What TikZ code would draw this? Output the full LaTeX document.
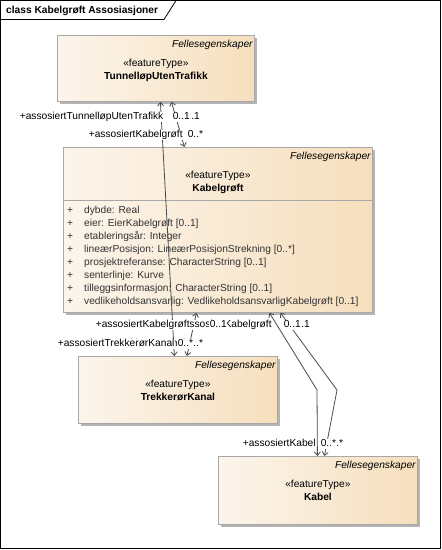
\documentclass[tikz,border=0pt]{standalone}
\usepackage{fontspec}
\setmainfont{Liberation Sans}
\usepackage{tikz}
\usetikzlibrary{arrows.meta,calc,positioning,shadows}
\definecolor{boxleft}{HTML}{FCF5EC}
\definecolor{boxright}{HTML}{F6DFBD}
\definecolor{boxedge}{HTML}{A8A8A8}
\definecolor{boxshade}{HTML}{B4B4B4}
\definecolor{assoc}{HTML}{4A4A4A}
\newcommand{\umlsize}{\fontsize{10.2bp}{12bp}\selectfont}

\begin{document}
\begin{tikzpicture}[x=1bp,y=-1bp,
  umlclass/.style={draw=boxedge,line width=0.8bp,left color=boxleft,right color=boxright,
    anchor=north west,inner sep=0pt,
    drop shadow={shadow xshift=3bp,shadow yshift=-3bp,fill=boxshade,opacity=1}},
  txt/.style={font=\umlsize,inner sep=0pt,text height=7.5bp,text depth=2bp},
  pkgname/.style={txt,font=\umlsize\itshape,anchor=east},
  stereo/.style={txt},
  clsname/.style={txt,font=\umlsize\bfseries},
  attr/.style={txt,anchor=west,text=black!80},
  role/.style={txt,anchor=west,fill=white,inner xsep=0.6bp},
  assocline/.style={draw=assoc,line width=0.8bp},
  nav/.style={assocline,{Straight Barb[length=3.5bp,width=6bp]}-{Straight Barb[length=3.5bp,width=6bp]}}]
  \useasboundingbox (0,0) rectangle (442,550);

  % frame and title tab
  \draw[line width=1bp] (0.5,0.5) rectangle (440.5,548.5);
  \draw[line width=0.8bp] (0.5,19.5) -- (164,19.5) -- (176,0.5);
  \node[clsname,anchor=west] (title) at (6,10.5) {class Kabelgrøft Assosiasjoner};

  % classes
  \node[umlclass,minimum width=197bp,minimum height=66bp] (tunnel) at (57,35) {};
  \node[umlclass,minimum width=309bp,minimum height=165bp] (kabelgroft) at (63,147) {};
  \node[umlclass,minimum width=199bp,minimum height=67bp] (trekkeror) at (78,356) {};
  \node[umlclass,minimum width=199bp,minimum height=68bp] (kabel) at (218,456) {};

  \foreach \cls/\name in {tunnel/TunnelløpUtenTrafikk,kabelgroft/Kabelgrøft,trekkeror/TrekkerørKanal,kabel/Kabel}{
    \node[pkgname] (\cls-pkg) at ($(\cls.north east)+(-2,10)$) {Fellesegenskaper};
    \node[stereo] (\cls-st) at ($(\cls.north)+(0,28.5)$) {«featureType»};
    \node[clsname] (\cls-nm) at ($(\cls.north)+(0,42)$) {\name};
  }

  % attributes of Kabelgrøft
  \draw[draw=boxedge,line width=0.8bp] ($(kabelgroft.north west)+(0,53.7)$) -- ($(kabelgroft.north east)+(0,53.7)$);
  \foreach \a [count=\i] in {{dybde: Real},{eier: EierKabelgrøft [0..1]},{etableringsår: Integer},
      {lineærPosisjon: LineærPosisjonStrekning [0..*]},{prosjektreferanse: CharacterString [0..1]},
      {senterlinje: Kurve},{tilleggsinformasjon: CharacterString [0..1]},
      {vedlikeholdsansvarlig: VedlikeholdsansvarligKabelgrøft [0..1]}}{
    \node[attr] (attr-plus-\i) at ($(kabelgroft.north west)+(4,63.5+13.1*\i-13.1)$) {+};
    \node[attr] (attr-\i) at ($(kabelgroft.north west)+(21,63.5+13.1*\i-13.1)$) {\a};
  }

  % associations
  \coordinate (bend-c) at (317,390);
  \coordinate (bend-d) at (337,390);
  \draw[nav] ($(tunnel.south)+(4.5,0)$) -- ($(trekkeror.north)+(-3.5,0)$);
  \draw[nav] ($(tunnel.south)+(15.5,0)$) -- ($(kabelgroft.north)+(-33.5,0)$);
  \draw[nav] ($(kabelgroft.south)+(-21.5,0)$) -- ($(trekkeror.north)+(9,0)$);
  \draw[nav] ($(kabelgroft.south)+(51.5,0)$) -- (bend-c) -- ($(kabel.north)+(-0.5,0)$);
  \draw[nav] ($(kabelgroft.south)+(62.5,0)$) -- (bend-d) -- ($(kabel.north)+(6.5,0)$);

  % role names and multiplicities
  \node[role] (tu-role) at (19,117) {+assosiertTunnelløpUtenTrafikk};
  \node[role] (tu-mult-b) at (182,117) {0..1};
  \node[role] (tu-mult-a) at (172,117) {0..1};

  \node[role] (kg-role-b) at (88,135) {+assosiertKabelgrøft};
  \node[role] (kg-mult-b) at (187,135) {0..*};

  \node[role] (kg-role-c) at (177,325) {+assosiertKabelgrøft};
  \node[role] (kg-role-2) at (95,325) {+assosiertKabelgrøft};
  \node[role] (kg-mult-2) at (209,325) {0..1};
  \node[role] (kg-mult-d) at (292,325) {0..1};
  \node[role] (kg-mult-c) at (283,325) {0..1};

  \node[role] (tk-role-2) at (68,344) {+assosiertTrekkerørKanal};
  \node[role] (tk-role-a) at (57,344) {+assosiertTrekkerørKanal};
  \node[role] (tk-mult-2) at (187,344) {0..*};
  \node[role] (tk-mult-a) at (177,344) {0..*};

  \node[role] (kb-role) at (242,444) {+assosiertKabel};
  \node[role] (kb-mult-d) at (327,444) {0..*};
  \node[role] (kb-mult-c) at (320,444) {0..*};
\end{tikzpicture}
\end{document}
